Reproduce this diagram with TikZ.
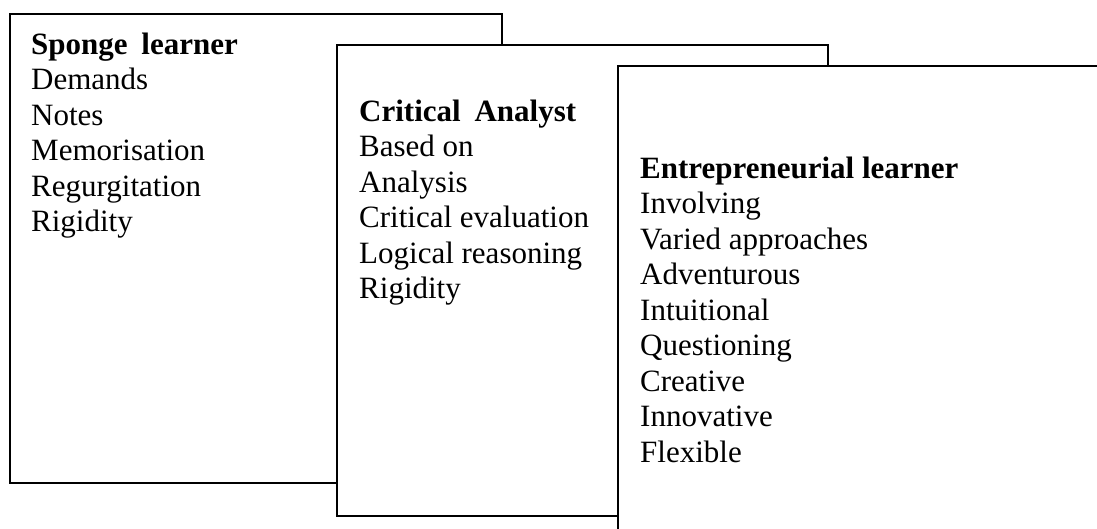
\documentclass[tikz,border=0pt]{standalone}
\usepackage{fontspec}
\setmainfont{Liberation Serif}
\tikzset{
	card/.style={fill=white, draw=black, line width=1.5pt},
	entry/.style={anchor=base west, inner sep=0pt, font=\fontsize{31}{36}\selectfont},
	head/.style={entry, font=\fontsize{31}{36}\selectfont\bfseries}
}
\begin{document}
\begin{tikzpicture}[x=1pt, y=-1pt]
		\useasboundingbox (0,0) rectangle (1097,528);
		\clip (0,0) rectangle (1097,528);
		% the three cards, each one lying over the one before
		\filldraw[card] (10,14) rectangle (502,483);
		\filldraw[card] (337,45) rectangle (828,516);
		\filldraw[card] (618,66) rectangle (1120,560);
		% sponge learner
		\node[head] (sponge) at (31,54) {Sponge\hspace{6pt} learner};
		\foreach \t [count=\i] in {Demands, Notes, Memorisation, Regurgitation, Rigidity}
			\node[entry] (sponge-\i) at (31,54+35.5*\i) {\t};
		% critical analyst
		\node[head] (analyst) at (359,121) {Critical\hspace{6pt} Analyst};
		\foreach \t [count=\i] in {Based on, Analysis, Critical evaluation, Logical reasoning, Rigidity}
			\node[entry] (analyst-\i) at (359,121+35.5*\i) {\t};
		% entrepreneurial learner
		\node[head] (entre) at (640,178) {Entrepreneurial learner};
		\foreach \t [count=\i] in {Involving, Varied approaches, Adventurous, Intuitional, Questioning, Creative, Innovative, Flexible}
			\node[entry] (entre-\i) at (640,178+35.5*\i) {\t};
	\end{tikzpicture}
\end{document}
